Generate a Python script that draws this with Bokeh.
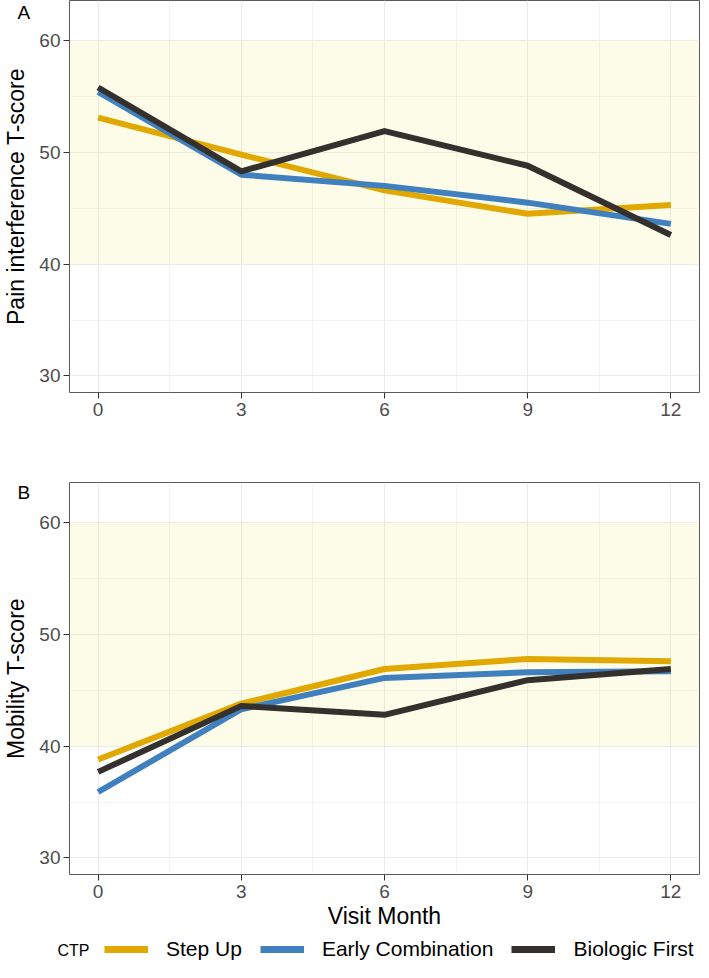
from bokeh.plotting import figure
from bokeh.layouts import column
from bokeh.models import Range1d, FixedTicker, BoxAnnotation, Legend, LegendItem
from bokeh.embed import file_html
from bokeh.resources import INLINE

# ---------------- data ----------------
months = [0, 3, 6, 9, 12]
series_names = ["Step Up", "Early Combination", "Biologic First"]
series_colors = ["#E0A800", "#4080BE", "#33302E"]
legend_title = "CTP"

pain_step_up = [53.1, 49.8, 46.6, 44.5, 45.3]
pain_early_combination = [55.4, 48.0, 47.0, 45.5, 43.6]
pain_biologic_first = [55.8, 48.3, 51.9, 48.8, 42.6]

mobility_step_up = [38.8, 43.8, 46.9, 47.8, 47.6]
mobility_early_combination = [35.9, 43.3, 46.1, 46.6, 46.7]
mobility_biologic_first = [37.7, 43.6, 42.8, 45.9, 46.9]

x_ticks = [0, 3, 6, 9, 12]
x_minor_ticks = [1.5, 4.5, 7.5, 10.5]
y_ticks = [30, 40, 50, 60]
y_minor_ticks = [35, 45, 55]
normal_low, normal_high = 40, 60

FONT = "Liberation Sans"
FRAME_W = 630
BORDER_L = 69
BORDER_R = 1


def style_tag(p, text_size, offset, standoff):
    p.title.align = "left"
    p.title.offset = offset
    p.title.standoff = standoff
    p.title.text_font = FONT
    p.title.text_font_size = text_size
    p.title.text_font_style = "normal"
    p.title.text_color = "black"


def make_panel(ylabel, values, tag, tag_standoff, b_top, b_bottom, xlabel=None):
    p = figure(
        output_backend="svg", toolbar_location=None,
        frame_width=FRAME_W, frame_height=392,
        min_border_left=BORDER_L, min_border_right=BORDER_R,
        min_border_top=b_top, min_border_bottom=b_bottom,
        x_range=Range1d(-0.6, 12.6), y_range=Range1d(28.52, 63.58),
        background_fill_color="white", border_fill_color="white",
        title=tag,
    )
    style_tag(p, "19px", -52, tag_standoff)

    p.outline_line_color = "#5a5a5a"
    p.outline_line_width = 1

    p.xaxis.ticker = FixedTicker(ticks=x_ticks, minor_ticks=x_minor_ticks)
    p.yaxis.ticker = FixedTicker(ticks=y_ticks, minor_ticks=y_minor_ticks)
    p.xgrid.ticker = FixedTicker(ticks=x_ticks, minor_ticks=x_minor_ticks)
    p.ygrid.ticker = FixedTicker(ticks=y_ticks, minor_ticks=y_minor_ticks)
    for g in (p.xgrid, p.ygrid):
        g.grid_line_color = "#EBEBEB"
        g.grid_line_width = 1.1
        g.minor_grid_line_color = "#EBEBEB"
        g.minor_grid_line_width = 0.6

    for ax in (p.xaxis, p.yaxis):
        ax.axis_line_color = None
        ax.major_tick_line_color = "#333333"
        ax.major_tick_out = 6
        ax.major_tick_in = 0
        ax.minor_tick_line_color = None
        ax.major_label_text_font = FONT
        ax.major_label_text_font_size = "19px"
        ax.major_label_text_color = "#4D4D4D"
        ax.axis_label_text_font = FONT
        ax.axis_label_text_font_size = "23px"
        ax.axis_label_text_font_style = "normal"
        ax.axis_label_text_color = "black"
    p.xaxis.major_label_standoff = 4
    p.yaxis.major_label_standoff = 3
    p.yaxis.axis_label = ylabel
    p.yaxis.axis_label_standoff = 7
    if xlabel:
        p.xaxis.axis_label = xlabel
        p.xaxis.axis_label_standoff = 2

    band = BoxAnnotation(bottom=normal_low, top=normal_high,
                         fill_color="#F0E442", fill_alpha=0.12,
                         line_color=None, level="underlay")
    p.add_layout(band)

    for vals, col in zip(values, series_colors):
        p.line(months, vals, line_color=col, line_width=6,
               line_join="round", line_cap="butt")
    return p


pA = make_panel("Pain interference T-score",
                [pain_step_up, pain_early_combination, pain_biologic_first],
                "A", -45, 0, 48)

pB = make_panel("Mobility T-score",
                [mobility_step_up, mobility_early_combination, mobility_biologic_first],
                "B", -40, 42, 62, xlabel="Visit Month")

# ---------------- legend strip ----------------
pL = figure(output_backend="svg", toolbar_location=None,
            frame_width=FRAME_W, frame_height=26,
            min_border_left=BORDER_L, min_border_right=BORDER_R,
            min_border_top=0, min_border_bottom=0,
            x_axis_type=None, y_axis_type=None,
            x_range=Range1d(0, 1), y_range=Range1d(0, 1),
            background_fill_color="white", border_fill_color="white",
            title=legend_title)
style_tag(pL, "16px", -12, -44)
pL.outline_line_color = None
pL.grid.visible = False

# legend keys come from the mobility series (drawn outside this strip's view)
key_renderers = [pL.line(months, vals, line_color=c, line_width=7)
                 for vals, c in zip([mobility_step_up, mobility_early_combination,
                                     mobility_biologic_first], series_colors)]
legend = Legend(
    items=[LegendItem(label=n, renderers=[r]) for n, r in zip(series_names, key_renderers)],
    orientation="horizontal", location=(35, 1),
    glyph_width=44, glyph_height=24, label_height=24,
    label_standoff=18, spacing=18, padding=0, margin=0,
    label_text_font=FONT, label_text_font_size="21px", label_text_color="black",
    border_line_alpha=0, background_fill_alpha=0,
)
pL.add_layout(legend)

layout = column(pA, pB, pL, spacing=0)
open("out.html", "w").write(file_html(layout, INLINE))
